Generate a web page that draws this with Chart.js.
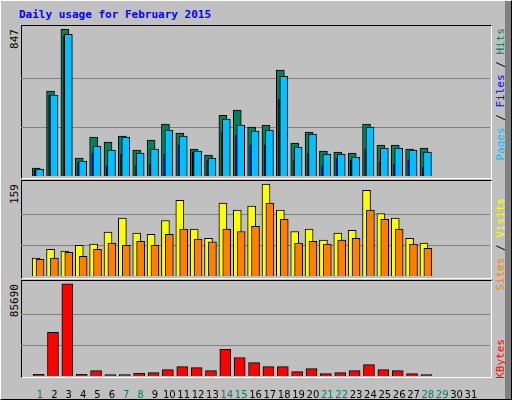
<!DOCTYPE html>
<html><head><meta charset="utf-8">
<script src="https://cdn.jsdelivr.net/npm/chart.js@4"></script>
<style>
body{margin:0;background:#fff}
#wrap{position:absolute;left:0;top:0;width:510px;height:398px;background:#c0c0c0;border-left:1px solid #fff;border-top:1px solid #fff;border-right:1px solid #000;border-bottom:1px solid #000;font-family:"DejaVu Sans Mono",monospace}
.panel{position:absolute;left:20px;width:469px;border-top:1px solid #000;border-left:1px solid #000;border-right:1px solid #fff;border-bottom:1px solid #fff}
canvas{position:absolute}
.v{position:absolute;writing-mode:vertical-rl;transform:rotate(180deg);font-size:11px;white-space:nowrap}
#strip{position:absolute;left:504px;top:0;width:6px;height:398px;background:#808080}
</style></head><body>
<div id="wrap">
<div id="strip"></div>
<div style="position:absolute;left:18px;top:7px;color:#0000ff;font-weight:bold;font-size:11px">Daily usage for February 2015</div>
<div class="panel" style="top:24px;height:152px"></div>
<div class="panel" style="top:179px;height:97px"></div>
<div class="panel" style="top:279px;height:96px"></div>
<div class="v" style="left:7px;top:28px">847</div>
<div class="v" style="left:7px;top:183px">159</div>
<div class="v" style="left:7px;top:283px">85690</div>
<div class="v" style="left:493px;top:27px"><span style="color:#00c0ff">Pages</span> / <span style="color:#0000ff">Files</span> / <span style="color:#00805c">Hits</span></div>
<div class="v" style="left:493px;top:197px"><span style="color:#ff8000">Sites</span> / <span style="color:#ffff00">Visits</span></div>
<div class="v" style="left:493px;top:338px"><span style="color:#ff0000">KBytes</span></div>
</div>
<canvas id="c1" style="left:21px;top:25px;width:469px;height:151px"></canvas>
<canvas id="c2" style="left:21px;top:180px;width:469px;height:96px"></canvas>
<canvas id="c3" style="left:21px;top:280px;width:469px;height:120px"></canvas>
<script>
const days=[1,2,3,4,5,6,7,8,9,10,11,12,13,14,15,16,17,18,19,20,21,22,23,24,25,26,27,28,29,30,31];
const hits=[46,491,847,104,225,196,230,150,207,300,248,156,121,351,380,282,294,611,190,253,144,138,132,300,178,178,156,161];
const files=[40,467,818,86,173,150,225,132,156,265,230,144,104,328,294,259,265,576,167,242,127,127,109,282,161,161,150,138];
const pages=[35,467,809,81,132,60,127,60,69,127,178,138,92,253,236,178,178,444,92,132,58,104,92,156,81,69,92,52];
const visits=[31,46,43,53,55,76,100,74,72,96,131,81,65,126,114,121,159,114,77,81,62,74,79,148,108,100,65,57];
const sites=[29,31,41,34,46,57,53,60,53,72,81,64,59,81,77,86,126,98,57,60,55,62,65,114,98,81,55,48];
const kbytes=[1560,40650,85690,1500,5000,1250,1250,2500,3130,5940,8760,7820,5000,24700,17200,12500,8760,8760,4070,6880,2190,3130,5000,10630,5940,5000,2190,1250];
const weekend=[1,7,8,14,15,21,22,28,29];

Chart.defaults.animation=false;
Chart.defaults.font.family="DejaVu Sans";
const pts=(arr,off)=>arr.map((v,i)=>({x:days[i]+off,y:v}));
const ds=(arr,off,col,w,ord)=>({data:pts(arr,off),order:ord,backgroundColor:col,borderColor:'#000',borderWidth:1,barThickness:w,grouped:false,borderSkipped:'bottom'});
function opts(max,top,showX){
  const x={type:'linear',min:0.2,max:31.8,display:showX,grid:{display:false},border:{display:false},
         afterBuildTicks:s=>{s.ticks=days.map(d=>({value:d}))},
         ticks:{autoSkip:false,maxRotation:0,padding:5,font:{size:10},
           color:c=>weekend.includes(c.tick.value)?'#00805c':'#000',callback:v=>String(v)}};
  if(showX) x.afterFit=s=>{s.height=24};
  return {responsive:false,maintainAspectRatio:false,devicePixelRatio:1,
    layout:{padding:0},
    plugins:{legend:{display:false},tooltip:{enabled:false}},
    scales:{
      x:x,
      y:{min:0,max:max,display:true,border:{display:false},
         afterFit:s=>{s.width=0},
         afterBuildTicks:s=>{s.ticks=[{value:top/3},{value:2*top/3}]},
         ticks:{display:false},grid:{color:'#808080',lineWidth:1,drawTicks:false}}
    }};
}
function mk(id,h){const c=document.getElementById(id);c.width=469;c.height=h;return c;}
new Chart(mk('c1',151),{type:'bar',data:{datasets:[ds(hits,-0.27,'#00805c',8,2),ds(pages,-0.33,'#0000ff',2,1),ds(files,-0.03,'#00c0ff',8,0)]},options:opts(872,847,false)});
new Chart(mk('c2',96),{type:'bar',data:{datasets:[ds(visits,-0.27,'#ffff00',8,1),ds(sites,0,'#ff8000',8,0)]},options:opts(166,159,false)});
new Chart(mk('c3',120),{type:'bar',data:{datasets:[ds(kbytes,-0.1,'#ff0000',11,0)]},options:opts(89250,85690,true)});
</script></body></html>
